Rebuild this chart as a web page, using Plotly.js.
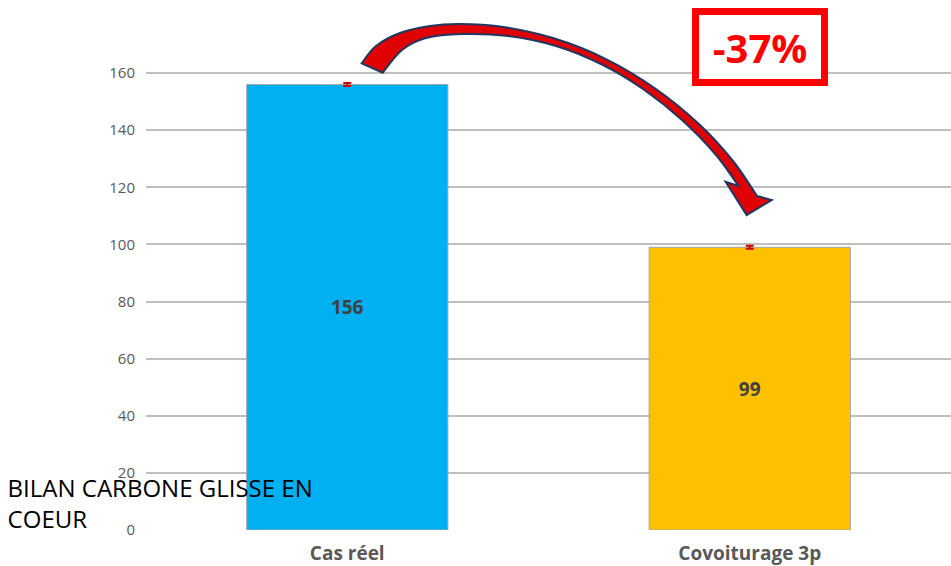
<!DOCTYPE html>
<html><head><meta charset="utf-8">
<script src="https://cdn.plot.ly/plotly-3.0.1.min.js"></script>
<style>html,body{margin:0;padding:0;background:#fff;}#chart{width:951px;height:566px;}</style>
</head><body><div id="chart"></div>
<script>
var categories = ["Cas réel", "Covoiturage 3p"];
var values = [156, 99];
var barColors = ["#00b0f0", "#ffc000"];
var errValues = [0.5, 0.5];
var yTicks = [0, 20, 40, 60, 80, 100, 120, 140, 160];
var titleText = "BILAN CARBONE GLISSE EN<br>COEUR";
var changeLabel = "-37%";

var L = 146, R = 0, T = 16, B = 36, W = 951, H = 566;
var pw = W - L - R, ph = H - T - B;
function px(x){ return ((x - L) / pw); }
function py(y){ return ((H - B - y) / ph); }
function pt(p){ return px(p[0]).toFixed(4) + ',' + py(p[1]).toFixed(4); }
function smooth(pts){
  var s = '';
  for (var i = 0; i < pts.length - 1; i++) {
    var p0 = pts[Math.max(i-1,0)], p1 = pts[i], p2 = pts[i+1], p3 = pts[Math.min(i+2, pts.length-1)];
    var c1 = [p1[0] + (p2[0]-p0[0])/6, p1[1] + (p2[1]-p0[1])/6];
    var c2 = [p2[0] - (p3[0]-p1[0])/6, p2[1] - (p3[1]-p1[1])/6];
    s += ' C' + pt(c1) + ' ' + pt(c2) + ' ' + pt(p2);
  }
  return s;
}
// decorative curved arrow outline (pixel positions)
var outerEdge = [[361.7,63.3],[376,46],[400,33],[430,26],[460,24],[500,26.5],[553,38],[606,59],[656,89],[700,125],[733,161],[757,196]];
var headPts = [[771.7,200],[746.7,215],[725.7,181.7]];
var innerEdge = [[738.5,186],[716,155],[682,120],[643,89],[603,65],[556,46],[508,36],[462,34],[426,38],[402,50],[382.7,72.7]];
var path = 'M' + pt(outerEdge[0]) + smooth(outerEdge) +
  headPts.map(function(p){ return ' L' + pt(p); }).join('') +
  ' L' + pt(innerEdge[0]) + smooth(innerEdge) + ' Z';

var trace = {
  type: 'bar',
  x: categories,
  y: values,
  width: 0.5,
  marker: {color: barColors, line: {color: '#a6a6a6', width: 1}},
  text: values.map(String),
  textposition: 'inside',
  insidetextanchor: 'middle',
  textfont: {family: 'Open Sans', size: 19, color: '#404040', weight: 'bold'},
  error_y: {type: 'data', array: errValues, visible: true, color: '#d00000', thickness: 2, width: 4},
  hoverinfo: 'none'
};

var layout = {
  width: W, height: H,
  margin: {l: L, r: R, t: T, b: B, pad: 0},
  paper_bgcolor: '#ffffff', plot_bgcolor: '#ffffff',
  showlegend: false,
  title: {text: titleText, x: 0.008, xanchor: 'left', xref: 'container', y: 0.122, yanchor: 'bottom', yref: 'container',
          font: {family: 'Open Sans', size: 24, color: '#000000'}},
  xaxis: {type: 'category', range: [-0.5, 1.5], showgrid: false, showline: false, zeroline: false, ticks: '',
          tickfont: {family: 'Open Sans', size: 19, color: '#595959', weight: 'bold'}, ticklabelstandoff: 10},
  yaxis: {range: [0, 180], tickvals: yTicks, ticktext: yTicks.map(String), showgrid: true, gridcolor: '#bfbfbf', gridwidth: 2,
          zeroline: false, showline: false, ticks: '', tickfont: {family: 'Open Sans', size: 15, color: '#595959'}, ticklabelstandoff: 10},
  shapes: [{type: 'path', xref: 'paper', yref: 'paper', path: path, fillcolor: '#e00000', line: {color: '#1f3864', width: 2}, layer: 'above'}],
  annotations: [{xref: 'paper', yref: 'paper', x: px(760), y: py(47), text: '<b>' + changeLabel + '</b>', showarrow: false,
    font: {family: 'Open Sans', size: 40, color: '#ff0000'}, bgcolor: '#ffffff', bordercolor: '#ff0000', borderwidth: 7, borderpad: 2,
    width: 118, height: 60, xanchor: 'center', yanchor: 'middle'}]
};
Plotly.newPlot('chart', [trace], layout, {displayModeBar: false, staticPlot: true});
</script></body></html>
